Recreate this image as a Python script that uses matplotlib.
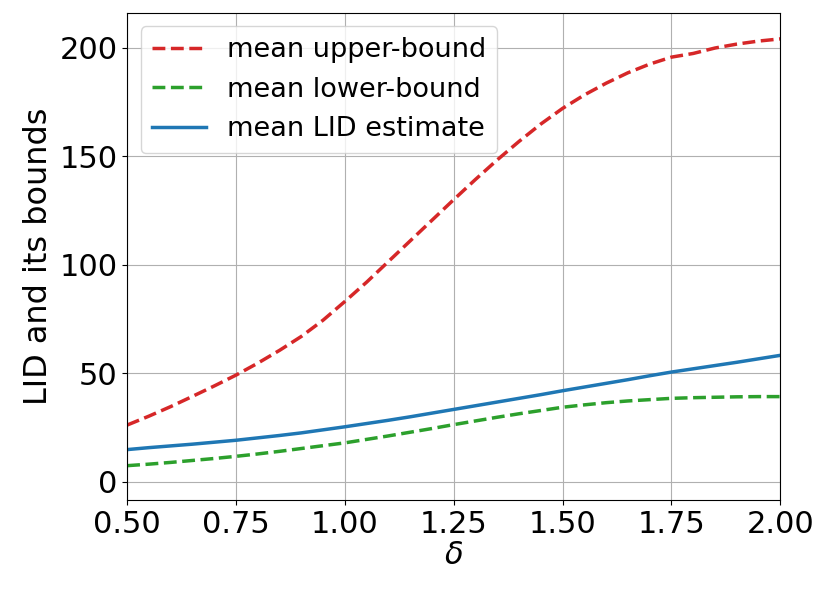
import matplotlib
matplotlib.use('Agg')
import matplotlib.pyplot as plt

delta = [0.50, 0.55, 0.60, 0.65, 0.70, 0.75, 0.80, 0.85, 0.90, 0.95,
         1.00, 1.05, 1.10, 1.15, 1.20, 1.25, 1.30, 1.35, 1.40, 1.45,
         1.50, 1.55, 1.60, 1.65, 1.70, 1.75, 1.80, 1.85, 1.90, 1.95, 2.00]
upper = [26.2, 30.3, 34.7, 39.4, 44.2, 49.2, 54.7, 60.6, 67.0, 74.5,
         83.1, 92.0, 101.5, 111.0, 120.5, 130.0, 139.3, 148.3, 156.8, 164.8,
         172.0, 178.2, 183.6, 188.4, 192.4, 195.6, 197.3, 199.8, 201.6, 203.0, 204.0]
lower = [7.5, 8.2, 9.0, 9.9, 10.8, 11.8, 12.9, 14.1, 15.4, 16.7,
         18.0, 19.6, 21.2, 22.9, 24.6, 26.4, 28.1, 29.8, 31.4, 32.9,
         34.4, 35.5, 36.5, 37.3, 37.9, 38.5, 38.8, 39.0, 39.2, 39.3, 39.3]
lid = [14.9, 15.8, 16.6, 17.4, 18.3, 19.2, 20.3, 21.4, 22.6, 24.0,
       25.4, 26.9, 28.4, 30.0, 31.7, 33.4, 35.1, 36.8, 38.5, 40.2,
       42.0, 43.7, 45.4, 47.1, 48.9, 50.6, 52.1, 53.6, 55.1, 56.7, 58.3]

fig = plt.figure(figsize=(8.31, 5.97), dpi=100)
ax = fig.add_axes([0.153, 0.1625, 0.786, 0.816])

ax.plot(delta, upper, '--', color='tab:red', lw=2.5, label='mean upper-bound')
ax.plot(delta, lower, '--', color='tab:green', lw=2.5, label='mean lower-bound')
ax.plot(delta, lid, '-', color='tab:blue', lw=2.5, label='mean LID estimate')

ax.set_xlim(0.5, 2.0)
ax.set_ylim(-8.3, 216)
ax.set_xticks([0.5, 0.75, 1.0, 1.25, 1.5, 1.75, 2.0])
ax.set_yticks([0, 50, 100, 150, 200])
ax.tick_params(labelsize=22)
ax.grid(True)
ax.set_xlabel(r'$\delta$', fontsize=22, labelpad=2)
ax.set_ylabel('LID and its bounds', fontsize=23)
ax.legend(loc='upper left', fontsize=19.5)

fig.savefig('out.png', dpi=100)
